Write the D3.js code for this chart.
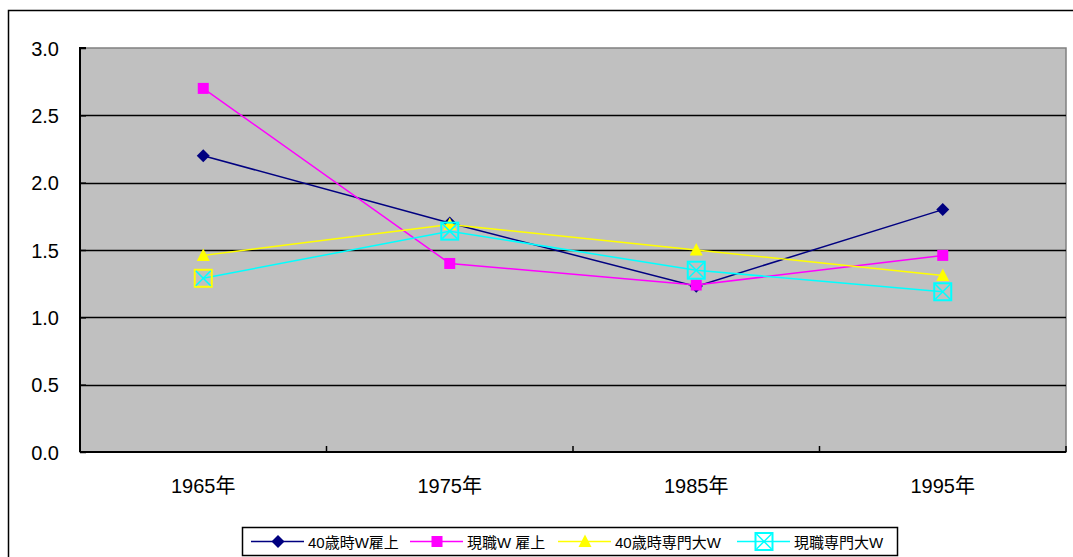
<!DOCTYPE html>
<html>
<head>
<meta charset="utf-8">
<script src="https://cdn.jsdelivr.net/npm/d3@7"></script>
<style>
  html, body { margin: 0; padding: 0; background: #fff; }
  svg { display: block; font-family: "Liberation Sans", Arial, "Noto Sans CJK JP", sans-serif; }
</style>
</head>
<body>
<svg id="chart" width="1073" height="557"></svg>
<script>
// Survey years on the category axis
const categories = ["1965年", "1975年", "1985年", "1995年"];

// Ratios per series
const wEmployedAt40 = [2.2, 1.7, 1.23, 1.8];
const wEmployedNow = [2.7, 1.4, 1.24, 1.46];
const collegeAt40 = [1.46, 1.69, 1.5, 1.31];
const collegeNow = [1.29, 1.64, 1.35, 1.19];

const seriesNames = ["40歳時W雇上", "現職W 雇上", "40歳時専門大W", "現職専門大W"];
const yTicks = [0, 0.5, 1.0, 1.5, 2.0, 2.5, 3.0];

const series = [
  { name: seriesNames[0], values: wEmployedAt40, color: "#000080", marker: "diamond" },
  { name: seriesNames[1], values: wEmployedNow, color: "#FF00FF", marker: "square" },
  { name: seriesNames[2], values: collegeAt40, color: "#FFFF00", marker: "triangle" },
  { name: seriesNames[3], values: collegeNow, color: "#00FFFF", marker: "boxx" }
];

const FONT = '"Liberation Sans", Arial, "Noto Sans CJK JP", sans-serif';
const svg = d3.select("#chart");

// Outer chart frame (runs past the right and bottom edges of the window)
svg.append("rect")
  .attr("x", 8.5).attr("y", 10.5)
  .attr("width", 1080).attr("height", 560)
  .attr("fill", "#fff").attr("stroke", "#000").attr("stroke-width", 1.5);

const plot = { left: 80, top: 48, right: 1066, bottom: 452 };

const x = d3.scaleBand().domain(categories).range([plot.left, plot.right]);
const y = d3.scaleLinear().domain([0, 3]).range([plot.bottom, plot.top]);

// Plot area
svg.append("rect")
  .attr("x", plot.left).attr("y", plot.top)
  .attr("width", plot.right - plot.left).attr("height", plot.bottom - plot.top)
  .attr("fill", "#C0C0C0").attr("stroke", "#808080").attr("stroke-width", 1.5);

// Horizontal gridlines
svg.append("g")
  .selectAll("line")
  .data(yTicks.filter(t => t > 0 && t < 3))
  .join("line")
  .attr("x1", plot.left).attr("x2", plot.right)
  .attr("y1", d => Math.round(y(d)) + 0.5).attr("y2", d => Math.round(y(d)) + 0.5)
  .attr("stroke", "#000").attr("stroke-width", 1.5);

// Y axis
const yAxis = svg.append("g")
  .attr("transform", `translate(${plot.left},0)`)
  .call(d3.axisLeft(y).tickValues(yTicks).tickFormat(d3.format(".1f")).tickSize(6).tickPadding(15));
yAxis.attr("font-family", FONT).attr("font-size", 20);
yAxis.select(".domain").attr("stroke", "#000").attr("stroke-width", 2).attr("d", `M6,${plot.top}H0V${plot.bottom}`);
yAxis.selectAll(".tick line").attr("x1", 0).attr("x2", 6).attr("stroke", "#000").attr("stroke-width", 1.5);
yAxis.selectAll(".tick text").attr("fill", "#000").attr("dy", "0.36em");

// X axis with ticks between categories
const boundaries = categories.slice(1).map(c => x(c));
const xAxisG = svg.append("g");
xAxisG.append("line")
  .attr("x1", plot.left).attr("x2", plot.right)
  .attr("y1", plot.bottom).attr("y2", plot.bottom)
  .attr("stroke", "#000").attr("stroke-width", 2);
xAxisG.selectAll("line.tk")
  .data(boundaries.concat([plot.right]))
  .join("line").attr("class", "tk")
  .attr("x1", d => d).attr("x2", d => d)
  .attr("y1", plot.bottom).attr("y2", plot.bottom - 6)
  .attr("stroke", "#000").attr("stroke-width", 1.5);
xAxisG.selectAll("text")
  .data(categories)
  .join("text")
  .attr("x", d => x(d) + x.bandwidth() / 2)
  .attr("y", 493)
  .attr("text-anchor", "middle")
  .attr("font-size", 20)
  .text(d => d);

// Marker shapes
function drawMarker(g, type, color, cx, cy, opts = {}) {
  if (type === "diamond") {
    g.append("path")
      .attr("d", `M${cx},${cy - 6.5}L${cx + 6.5},${cy}L${cx},${cy + 6.5}L${cx - 6.5},${cy}Z`)
      .attr("fill", color);
  } else if (type === "square") {
    g.append("rect").attr("x", cx - 5.5).attr("y", cy - 5.5).attr("width", 11).attr("height", 11).attr("fill", color);
  } else if (type === "triangle") {
    g.append("path")
      .attr("d", `M${cx},${cy - 7}L${cx + 6.5},${cy + 5.5}L${cx - 6.5},${cy + 5.5}Z`)
      .attr("fill", color);
  } else if (type === "boxx") {
    const h = 8.5;
    const frame = opts.frame || color;
    g.append("rect").attr("x", cx - h).attr("y", cy - h).attr("width", 2 * h).attr("height", 2 * h)
      .attr("fill", "none").attr("stroke", frame).attr("stroke-width", 2);
    g.append("path")
      .attr("d", `M${cx - h + 1},${cy - h + 1}L${cx + h - 1},${cy + h - 1}M${cx + h - 1},${cy - h + 1}L${cx - h + 1},${cy + h - 1}`)
      .attr("stroke", color).attr("stroke-width", 1.5).attr("fill", "none");
  }
}

// Series lines and markers
const line = d3.line()
  .x((d, i) => x(categories[i]) + x.bandwidth() / 2)
  .y(d => y(d));

series.forEach(s => {
  const g = svg.append("g");
  g.append("path")
    .attr("d", line(s.values))
    .attr("fill", "none").attr("stroke", s.color).attr("stroke-width", 1.5);
  s.values.forEach((v, i) => {
    const frame = (s.marker === "boxx" && i === 0) ? "#FFFF00" : s.color;
    drawMarker(g, s.marker, s.color, x(categories[i]) + x.bandwidth() / 2, y(v), { frame });
  });
});

// Legend
const legend = svg.append("g");
legend.append("rect")
  .attr("x", 242.5).attr("y", 527.5).attr("width", 655).attr("height", 28)
  .attr("fill", "#fff").attr("stroke", "#000").attr("stroke-width", 1.5);
const legendX = [251, 410, 558, 737];
series.forEach((s, i) => {
  const lx = legendX[i];
  const ly = 541.5;
  legend.append("line")
    .attr("x1", lx).attr("x2", lx + 53).attr("y1", ly).attr("y2", ly)
    .attr("stroke", s.color).attr("stroke-width", 1.5);
  drawMarker(legend, s.marker, s.color, lx + 27, ly);
  legend.append("text")
    .attr("x", lx + 57).attr("y", ly + 6)
    .attr("font-size", 15)
    .text(s.name);
});
</script>
</body>
</html>
